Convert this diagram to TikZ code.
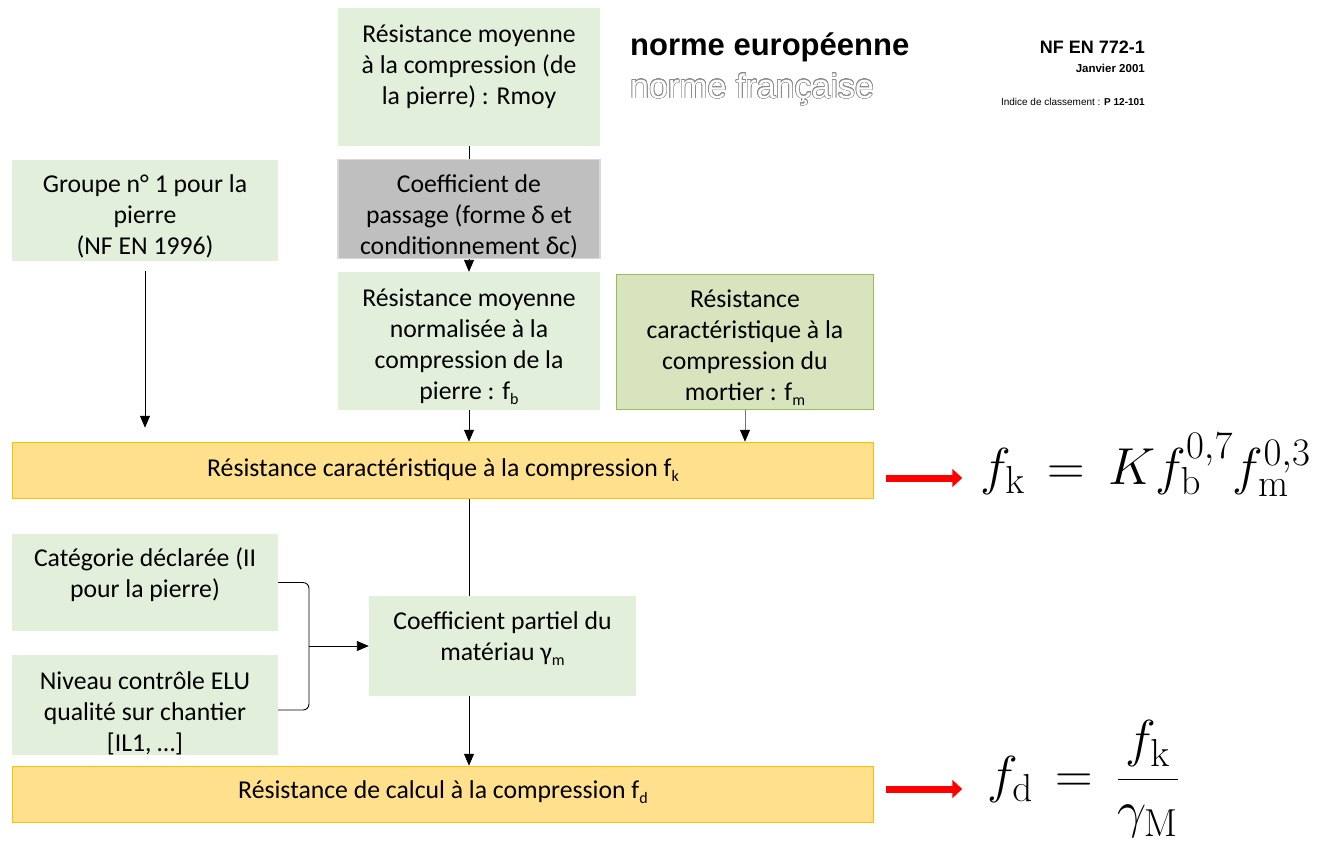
\RequirePackage{fix-cm}
\documentclass[tikz,border=0pt]{standalone}
\usepackage[no-math]{fontspec}
\setmainfont{Carlito}
\newfontfamily\arialf{Liberation Sans}
\usepackage{contour}
\contourlength{0.55pt}
\contournumber{32}
\usetikzlibrary{arrows.meta}
\DeclareMathSizes{52}{52}{39}{30}
\newcommand\sbx[1]{\raisebox{-5pt}{\fontsize{16}{16}\selectfont #1}}
\definecolor{lgreen}{HTML}{E2EFDA}
\definecolor{mgreen}{HTML}{D7E4BD}
\definecolor{mgreenb}{HTML}{9BBB59}
\definecolor{greyf}{HTML}{BFBFBF}
\definecolor{greyb}{HTML}{D9D9D9}
\definecolor{yelf}{HTML}{FFE08C}
\definecolor{yelb}{HTML}{FFC000}
\definecolor{redarrow}{HTML}{FF0000}
\begin{document}
\begin{tikzpicture}[x=1pt,y=-1pt,
  txt/.style={align=center, inner sep=0pt, font=\fontsize{25.7}{31}\selectfont},
  box/.style={rectangle, inner sep=0pt, align=center, font=\fontsize{25.7}{31}\selectfont},
  gbox/.style={box, fill=lgreen},
  greybox/.style={box, fill=greyf, draw=greyb, line width=1.8pt},
  mbox/.style={box, fill=mgreen, draw=mgreenb, line width=1.5pt},
  ybox/.style={box, fill=yelf, draw=yelb, line width=1.5pt},
  arr/.style={line width=0.9pt, -{Triangle[width=10pt,length=12pt]}},
  marr/.style={line width=0.9pt, draw=black!55, -{Triangle[width=10pt,length=12pt,color=black]}},
  plain/.style={line width=0.9pt},
  redarr/.style={line width=7pt, draw=redarrow, -{Triangle[width=18pt,length=10pt]}},
  formula/.style={anchor=base west, inner sep=0pt, font=\fontsize{52}{62}\selectfont},
]
\useasboundingbox (0,0) rectangle (1323,844);

% header
\node[anchor=base west, inner sep=0pt, font=\arialf\bfseries\fontsize{31}{36}\selectfont] (h1) at (630,55) {norme européenne};
\node[anchor=base west, inner sep=0pt, font=\arialf\fontsize{34}{38}\selectfont] (h2) at (630,98) {{\color{white}\contour{black!45}{norme française}}};
\node[anchor=base east, inner sep=0pt, font=\arialf\bfseries\fontsize{18}{20}\selectfont] (h3) at (1145,53) {NF EN 772-1};
\node[anchor=base east, inner sep=0pt, font=\arialf\bfseries\fontsize{11.5}{13}\selectfont] (h4) at (1145,72) {Janvier 2001};
\node[anchor=base east, inner sep=0pt, font=\arialf\fontsize{10}{12}\selectfont] (h5) at (1145,105) {Indice de classement : \textbf{P 12-101}};

% boxes
\node[gbox, minimum width=262pt, minimum height=138pt,
  label={[txt, yshift=10pt]center:{Résistance moyenne\\à la compression (de\\la pierre) : Rmoy}}] (rmoy) at (469,77) {};
\node[greybox, minimum width=262pt, minimum height=99pt,
  label={[txt, yshift=-7pt]center:{Coefficient de\\passage (forme δ et\\conditionnement δc)}}] (coef) at (469,209) {};
\node[gbox, minimum width=262pt, minimum height=138pt,
  label={[txt, yshift=-6pt]center:{Résistance moyenne\\normalisée à la\\compression de la\\pierre : f\sbx{b}}}] (norm) at (469,341) {};
\node[mbox, minimum width=257pt, minimum height=135pt,
  label={[txt, yshift=-6pt]center:{Résistance\\caractéristique à la\\compression du\\mortier : f\sbx{m}}}] (mort) at (745,342) {};
\node[gbox, minimum width=266pt, minimum height=101pt,
  label={[txt, yshift=-6pt]center:{Groupe n° 1 pour la\\pierre\\(NF EN 1996)}}] (grp) at (145,210.5) {};
\node[ybox, minimum width=861pt, minimum height=56pt] (fk) at (443,470.5)
  {Résistance caractéristique à la compression f\sbx{k}};
\node[gbox, minimum width=266pt, minimum height=97pt,
  label={[txt, yshift=8pt]center:{Catégorie déclarée (II\\pour la pierre)}}] (cat) at (145,582.5) {};
\node[gbox, minimum width=266pt, minimum height=100pt,
  label={[txt, yshift=-8pt]center:{Niveau contrôle ELU\\qualité sur chantier\\{}[IL1, …]}}] (niv) at (145,705) {};
\node[gbox, minimum width=267pt, minimum height=100pt,
  label={[txt, yshift=7pt]center:{Coefficient partiel du\\matériau γ\sbx{m}}}] (cp) at (502.5,646) {};
\node[ybox, minimum width=861pt, minimum height=56pt,
  label={[txt, yshift=2pt]center:{Résistance de calcul à la compression f\sbx{d}}}] (fd) at (443,794.5) {};

% formulas
\node[formula] (fkf) at (980,484) {$f_{\mathrm{k}} \,=\, K f_{\mathrm{b}}^{0{,}7} f_{\mathrm{m}}^{0{,}3}$};
\node[formula] (fdf) at (987,792) {$\displaystyle f_{\mathrm{d}} \,=\, \frac{f_{\mathrm{k}}}{\gamma_{\mathrm{M}}}$};

% connectors
\draw[plain] (rmoy.south) -- (coef.north);
\draw[arr] (coef.south) -- (norm.north);
\draw[arr] (norm.south) -- (norm.south |- fk.north);
\draw[marr] (mort.south) -- (mort.south |- fk.north);
\draw[arr, shorten <=10pt, shorten >=14pt] (grp.south) -- (grp.south |- fk.north);
\draw[plain] (fk.south -| norm.south) -- (cp.north -| norm.south);
\draw[arr] (cp.south -| norm.south) -- (fd.north -| norm.south);
\coordinate (brx) at (309,646);
\draw[plain, rounded corners=6pt] (cat.east) -| (brx |- 0,710) -- ([yshift=-5pt]niv.east);
\draw[arr] (brx) -- (cp.west |- brx);

\draw[redarr] ([xshift=12pt,yshift=-7.5pt]fk.east) -- ++(76,0);
\draw[redarr] ([xshift=12pt,yshift=5.5pt]fd.east) -- ++(76,0);
\end{tikzpicture}
\end{document}
